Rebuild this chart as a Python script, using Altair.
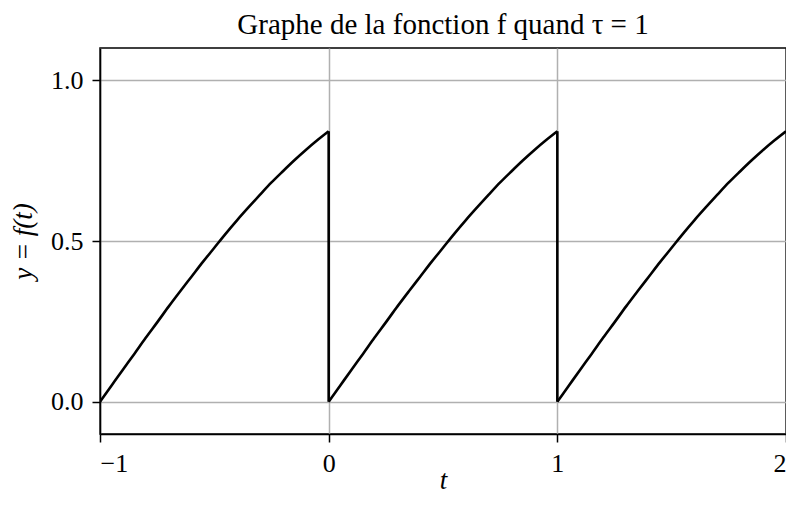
import altair as alt
import pandas as pd

# values (one period, repeated three times)
phase = [0.0, 0.05, 0.10, 0.15, 0.20, 0.25, 0.30, 0.35, 0.40, 0.45, 0.50,
         0.55, 0.60, 0.65, 0.70, 0.75, 0.80, 0.85, 0.90, 0.95, 1.0]
yvals = [0.0, 0.050, 0.100, 0.149, 0.199, 0.247, 0.296, 0.343, 0.389, 0.435, 0.479,
         0.523, 0.565, 0.605, 0.644, 0.682, 0.717, 0.751, 0.783, 0.813, 0.841]
period_starts = [-1, 0, 1]
drop_at = [0, 1]          # where the curve falls back to 0

x_ticks = [-1, 0, 1, 2]
y_ticks = [0.0, 0.5, 1.0]

rows = []
for p in period_starts:
    for ph, yv in zip(phase, yvals):
        rows.append({"t": p + ph, "y": yv, "period": p})
df = pd.DataFrame(rows)

drops = pd.DataFrame({"t": drop_at, "ytop": [yvals[-1]] * len(drop_at),
                      "ybot": [yvals[0]] * len(drop_at)})

FONT = "Liberation Serif"

xscale = alt.Scale(domain=[-1, 2], nice=False, zero=False)
yscale = alt.Scale(domain=[-0.1, 1.1], nice=False, zero=False)

curve = alt.Chart(df).mark_line(color="black", strokeWidth=2.6, clip=True,
                                interpolate="monotone").encode(
    x=alt.X("t:Q", scale=xscale,
            axis=alt.Axis(values=x_ticks, title="t", titleFontStyle="italic",
                          labelExpr="datum.value < 0 ? '\u2212' + abs(datum.value) : datum.label",
                          format="d", titleY=54, titleBaseline="alphabetic",
                          labelPadding=8)),
    y=alt.Y("y:Q", scale=yscale,
            axis=alt.Axis(values=y_ticks, format=".1f", title="y = f(t)",
                          titleFontStyle="italic", titlePadding=13, labelPadding=9)),
    detail="period:N",
)

rules = alt.Chart(drops).mark_rule(color="black", strokeWidth=2.6).encode(
    x="t:Q", y="ytop:Q", y2="ybot:Q"
)

chart = alt.layer(curve, rules).properties(
    width=686, height=386,
    title=alt.TitleParams("Graphe de la fonction f quand \u03c4 = 1", font=FONT,
                          fontSize=29, fontWeight="normal", offset=8, color="black"),
    autosize=alt.AutoSizeParams(type="none"),
    padding={"left": 92, "top": 40, "right": 0, "bottom": 62},
).configure_axis(
    labelFont=FONT, titleFont=FONT, labelFontSize=26, titleFontSize=27,
    titleFontWeight="normal", labelColor="black", titleColor="black",
    domainColor="black", domainWidth=1.5, tickColor="black", tickWidth=1.5,
    tickSize=8, gridColor="#b0b0b0", gridWidth=1.5,
    grid=True,
).configure_view(stroke="black", strokeWidth=1.5)

chart.save("out.html", embed_options={"renderer": "svg", "actions": False})
